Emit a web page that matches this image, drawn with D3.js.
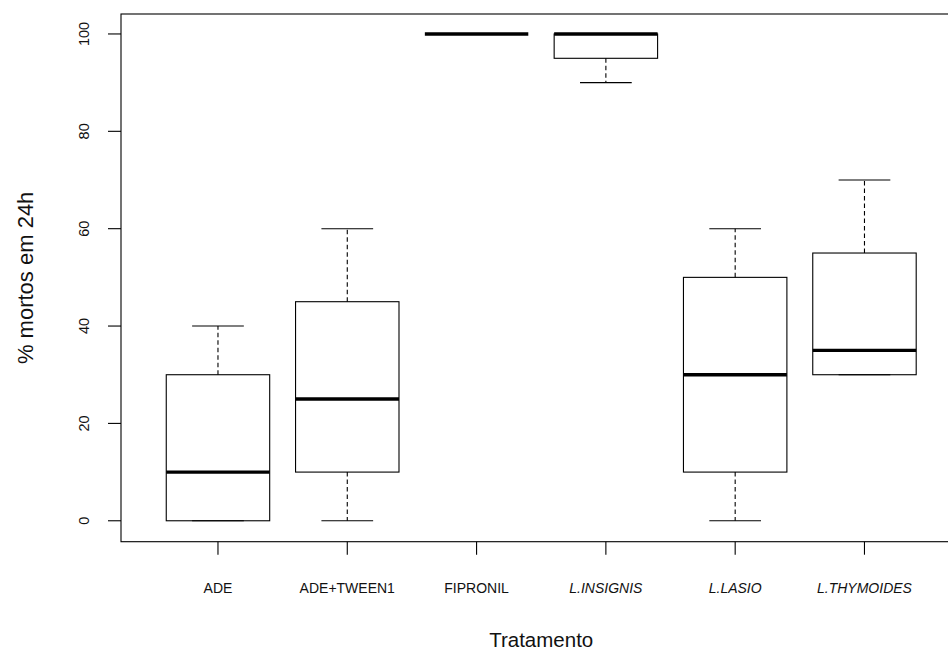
<!DOCTYPE html>
<html>
<head>
<meta charset="utf-8">
<script src="https://cdn.jsdelivr.net/npm/d3@7"></script>
<style>
  html, body { margin: 0; padding: 0; background: #fff; }
  svg { display: block; font-family: "Liberation Sans", Arial, sans-serif; }
</style>
</head>
<body>
<svg id="chart" width="948" height="654"></svg>
<script>
// Treatments (x categories); italic ones are plant species
const categories = ["ADE", "ADE+TWEEN1", "FIPRONIL", "L.INSIGNIS", "L.LASIO", "L.THYMOIDES"];
const italicCats = ["L.INSIGNIS", "L.LASIO", "L.THYMOIDES"];

// Five-number summaries of % dead after 24h
const whiskerLow  = [0, 0, 100, 90, 0, 30];
const quartile1   = [0, 10, 100, 95, 10, 30];
const medians     = [10, 25, 100, 100, 30, 35];
const quartile3   = [30, 45, 100, 100, 50, 55];
const whiskerHigh = [40, 60, 100, 100, 60, 70];

const yTicks = [0, 20, 40, 60, 80, 100];

const svg = d3.select("#chart");

// Plot region
const plotLeft = 121, plotTop = 14, plotBottom = 541.7;
const x = d3.scaleLinear().domain([0.25, 6.75]).range([plotLeft, plotLeft + 6.5 * 129.3]);
const y = d3.scaleLinear().domain([-4.3, 104.1]).range([plotBottom, plotTop]);

const boxes = categories.map((c, i) => ({
  cat: c, pos: i + 1,
  lo: whiskerLow[i], q1: quartile1[i], med: medians[i], q3: quartile3[i], hi: whiskerHigh[i]
}));

const g = svg.append("g");

boxes.forEach(b => {
  const cx = x(b.pos), hw = x(b.pos + 0.4) - cx, cw = x(b.pos + 0.2) - cx;
  // whiskers (dashed)
  if (b.hi > b.q3) {
    g.append("line").attr("x1", cx).attr("x2", cx).attr("y1", y(b.q3)).attr("y2", y(b.hi))
      .attr("stroke", "#000").attr("stroke-width", 1.1).attr("stroke-dasharray", "4.5,3");
  }
  if (b.lo < b.q1) {
    g.append("line").attr("x1", cx).attr("x2", cx).attr("y1", y(b.q1)).attr("y2", y(b.lo))
      .attr("stroke", "#000").attr("stroke-width", 1.1).attr("stroke-dasharray", "4.5,3");
  }
  // whisker caps
  [b.lo, b.hi].forEach(v => {
    g.append("line").attr("x1", cx - cw).attr("x2", cx + cw).attr("y1", y(v)).attr("y2", y(v))
      .attr("stroke", "#000").attr("stroke-width", 1.1);
  });
  // box
  g.append("rect").attr("x", cx - hw).attr("y", y(b.q3))
    .attr("width", 2 * hw).attr("height", Math.max(0, y(b.q1) - y(b.q3)))
    .attr("fill", "none").attr("stroke", "#000").attr("stroke-width", 1.1);
  // median
  g.append("line").attr("x1", cx - hw).attr("x2", cx + hw).attr("y1", y(b.med)).attr("y2", y(b.med))
    .attr("stroke", "#000").attr("stroke-width", 3.4);
});

// Frame
svg.append("rect").attr("x", plotLeft).attr("y", plotTop)
  .attr("width", x(6.75) - plotLeft).attr("height", plotBottom - plotTop)
  .attr("fill", "none").attr("stroke", "#000").attr("stroke-width", 1.1);

// Y axis ticks and labels (rotated, R style)
const yAxis = svg.append("g");
yTicks.forEach(t => {
  yAxis.append("line").attr("x1", plotLeft - 13).attr("x2", plotLeft).attr("y1", y(t)).attr("y2", y(t))
    .attr("stroke", "#000").attr("stroke-width", 1.1);
  yAxis.append("text")
    .attr("transform", `translate(89,${y(t)}) rotate(-90)`)
    .attr("text-anchor", "middle").attr("font-size", 14.5).attr("fill", "#111")
    .text(t);
});

// X axis ticks and labels
const xAxis = svg.append("g");
boxes.forEach(b => {
  const cx = x(b.pos);
  xAxis.append("line").attr("x1", cx).attr("x2", cx).attr("y1", plotBottom).attr("y2", plotBottom + 13)
    .attr("stroke", "#000").attr("stroke-width", 1.1);
  xAxis.append("text").attr("x", cx).attr("y", 592.5)
    .attr("text-anchor", "middle").attr("font-size", 14).attr("fill", "#111")
    .attr("font-style", italicCats.includes(b.cat) ? "italic" : "normal")
    .text(b.cat);
});

// Axis titles
svg.append("text").attr("x", (plotLeft + x(6.75)) / 2).attr("y", 646.5)
  .attr("text-anchor", "middle").attr("font-size", 20.5).attr("fill", "#111")
  .text("Tratamento");

svg.append("text")
  .attr("transform", `translate(33,${(plotTop + plotBottom) / 2}) rotate(-90)`)
  .attr("text-anchor", "middle").attr("font-size", 22).attr("fill", "#111")
  .text("% mortos em 24h");
</script>
</body>
</html>
